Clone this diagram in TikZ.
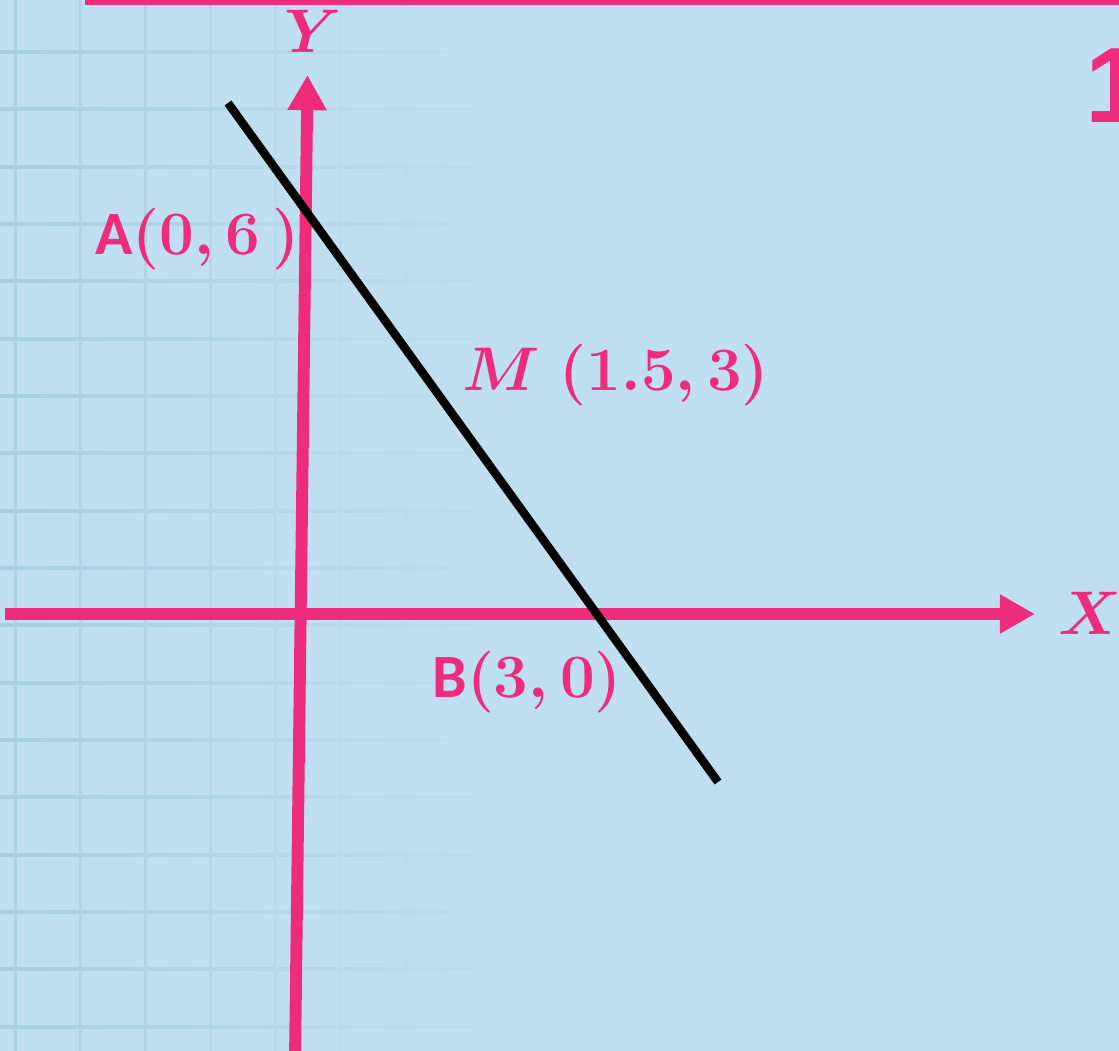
\documentclass[tikz,border=0pt]{standalone}
\usepackage{fontspec}
\setmainfont{Liberation Serif}
\newfontfamily\labelsans{Carlito}
\newfontfamily\numsans{Liberation Sans}
\usetikzlibrary{arrows.meta}
\definecolor{paper}{HTML}{C0E0F1}
\definecolor{gridline}{HTML}{A9CFE3}
\definecolor{axispink}{HTML}{EE2C7C}
\begin{document}
\begin{tikzpicture}[x=0.02cm, y=-0.02cm,
		axis/.style={axispink, line width=6.8pt, -{Triangle[length=20pt, width=21pt]}},
		lbl/.style={axispink, inner sep=0pt, anchor=base west, scale=1.41,
			font=\Huge\bfseries\boldmath}]
		\useasboundingbox (0,0) rectangle (1119,1051);
		\clip (0,0) rectangle (1119,1051);
		\fill[paper] (0,0) rectangle (1119,1051);
		\foreach \k in {0,...,8}{
			\pgfmathsetmacro{\gx}{15+65*\k}
			\pgfmathsetmacro{\go}{max(0,0.8-0.1*\k-0.05*max(0,\k-4))}
			\fill[gridline, opacity=\go] (\gx-1.5,0) rectangle (\gx+1.5,1051);
		}
		\foreach \k in {-1,...,17}{
			\pgfmathsetmacro{\gy}{52+57.33*\k}
			\shade[left color=gridline, right color=paper] (0,\gy-1.5) rectangle (520,\gy+1.5);
		}
		\fill[axispink] (85,0) rectangle (1119,5);
		\coordinate (ybot) at (295,1060);
		\coordinate (ytop) at (307.5,75);
		\coordinate (xleft) at (5,614);
		\coordinate (xright) at (1035,614);
		\coordinate (p) at (228,103);
		\coordinate (q) at (718,782);
		\draw[axis] (ybot) -- (ytop);
		\draw[axis] (xleft) -- (xright);
		\draw[black, line width=4.8pt] (p) -- (q);
		\node[lbl] (alab) at (95,254) {{\labelsans A}$(0,6\,)$};
		\node[lbl] (mlab) at (462,390) {$M$\hspace{8pt}$(1.5,3)$};
		\node[lbl] (blab) at (432,697) {{\labelsans B}$(3,0)$};
		\node[lbl] (xlab) at (1058,634) {$X$};
		\node[lbl] (ylab) at (284,53) {$Y$};
		\node[axispink, inner sep=0pt, anchor=base west,
			font=\numsans\fontsize{61}{70}\selectfont\bfseries] (num) at (1085,123) {1};
	\end{tikzpicture}
\end{document}
